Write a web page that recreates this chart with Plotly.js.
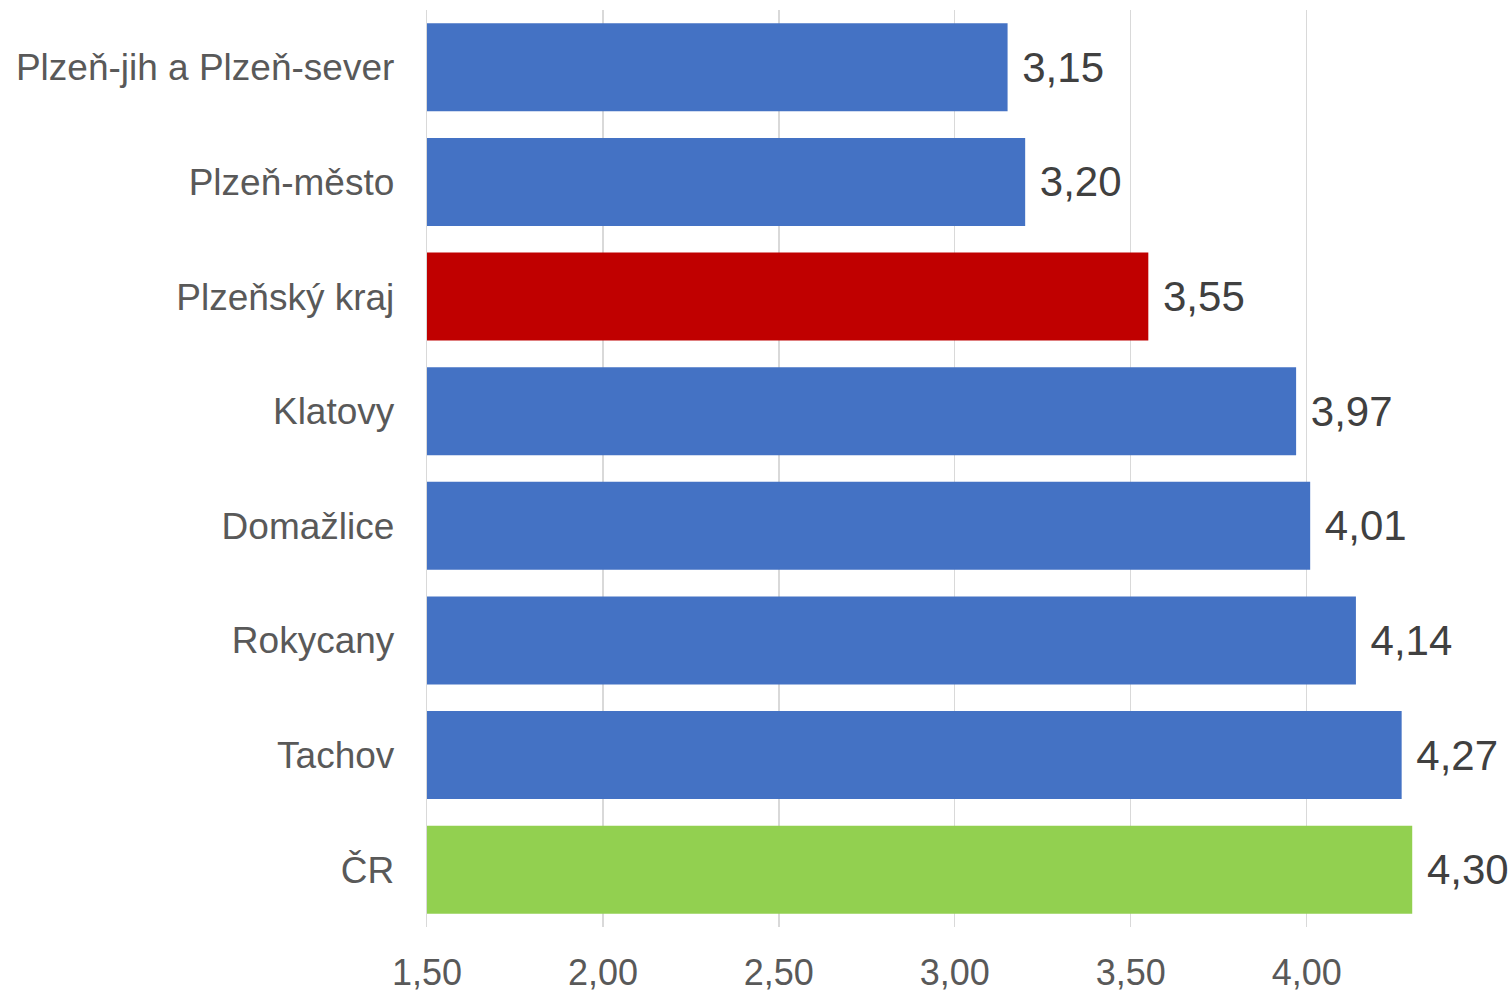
<!DOCTYPE html>
<html>
<head>
<meta charset="utf-8">
<script src="https://cdn.plot.ly/plotly-3.0.1.min.js"></script>
<style>html,body{margin:0;padding:0;background:#fff;}#chart{width:1511px;height:992px;}</style>
</head>
<body>
<div id="chart"></div>
<script>
const categories = ["Plzeň-jih a Plzeň-sever", "Plzeň-město", "Plzeňský kraj", "Klatovy", "Domažlice", "Rokycany", "Tachov", "ČR"];
const values = [3.15, 3.20, 3.55, 3.97, 4.01, 4.14, 4.27, 4.30];
const barColors = ["#4472C4", "#4472C4", "#C00000", "#4472C4", "#4472C4", "#4472C4", "#4472C4", "#92D050"];
const tickValues = [1.5, 2.0, 2.5, 3.0, 3.5, 4.0];

const trace = {
  type: 'bar',
  orientation: 'h',
  x: values,
  y: categories,
  base: 0,
  marker: {color: barColors, line: {width: 0}},
  texttemplate: '\u00A0%{x:.2f}',
  textposition: 'outside',
  constraintext: 'none',
  cliponaxis: false,
  textfont: {family: 'Liberation Sans, Arial, sans-serif', size: 42, color: '#404040'},
  hoverinfo: 'none'
};

const layout = {
  width: 1511,
  height: 992,
  margin: {l: 427, r: 46, t: 10, b: 65},
  paper_bgcolor: '#ffffff',
  plot_bgcolor: '#ffffff',
  separators: ', ',
  bargap: 0.233,
  showlegend: false,
  font: {family: 'Liberation Sans, Arial, sans-serif', color: '#595959'},
  xaxis: {
    range: [1.5, 4.45],
    tickvals: tickValues,
    tickformat: '.2f',
    showgrid: true,
    gridcolor: '#D9D9D9',
    gridwidth: 1.3,
    zeroline: false,
    showline: false,
    ticks: 'outside',
    ticklen: 14,
    tickcolor: 'rgba(0,0,0,0)',
    tickfont: {size: 36, color: '#595959'},
    fixedrange: true
  },
  yaxis: {
    autorange: 'reversed',
    type: 'category',
    showgrid: false,
    zeroline: false,
    showline: true,
    linecolor: '#D9D9D9',
    linewidth: 1.3,
    ticks: 'outside',
    ticklen: 24,
    tickcolor: 'rgba(0,0,0,0)',
    tickfont: {size: 37, color: '#595959'},
    fixedrange: true
  }
};

Plotly.newPlot('chart', [trace], layout, {displayModeBar: false, staticPlot: true});
</script>
</body>
</html>
